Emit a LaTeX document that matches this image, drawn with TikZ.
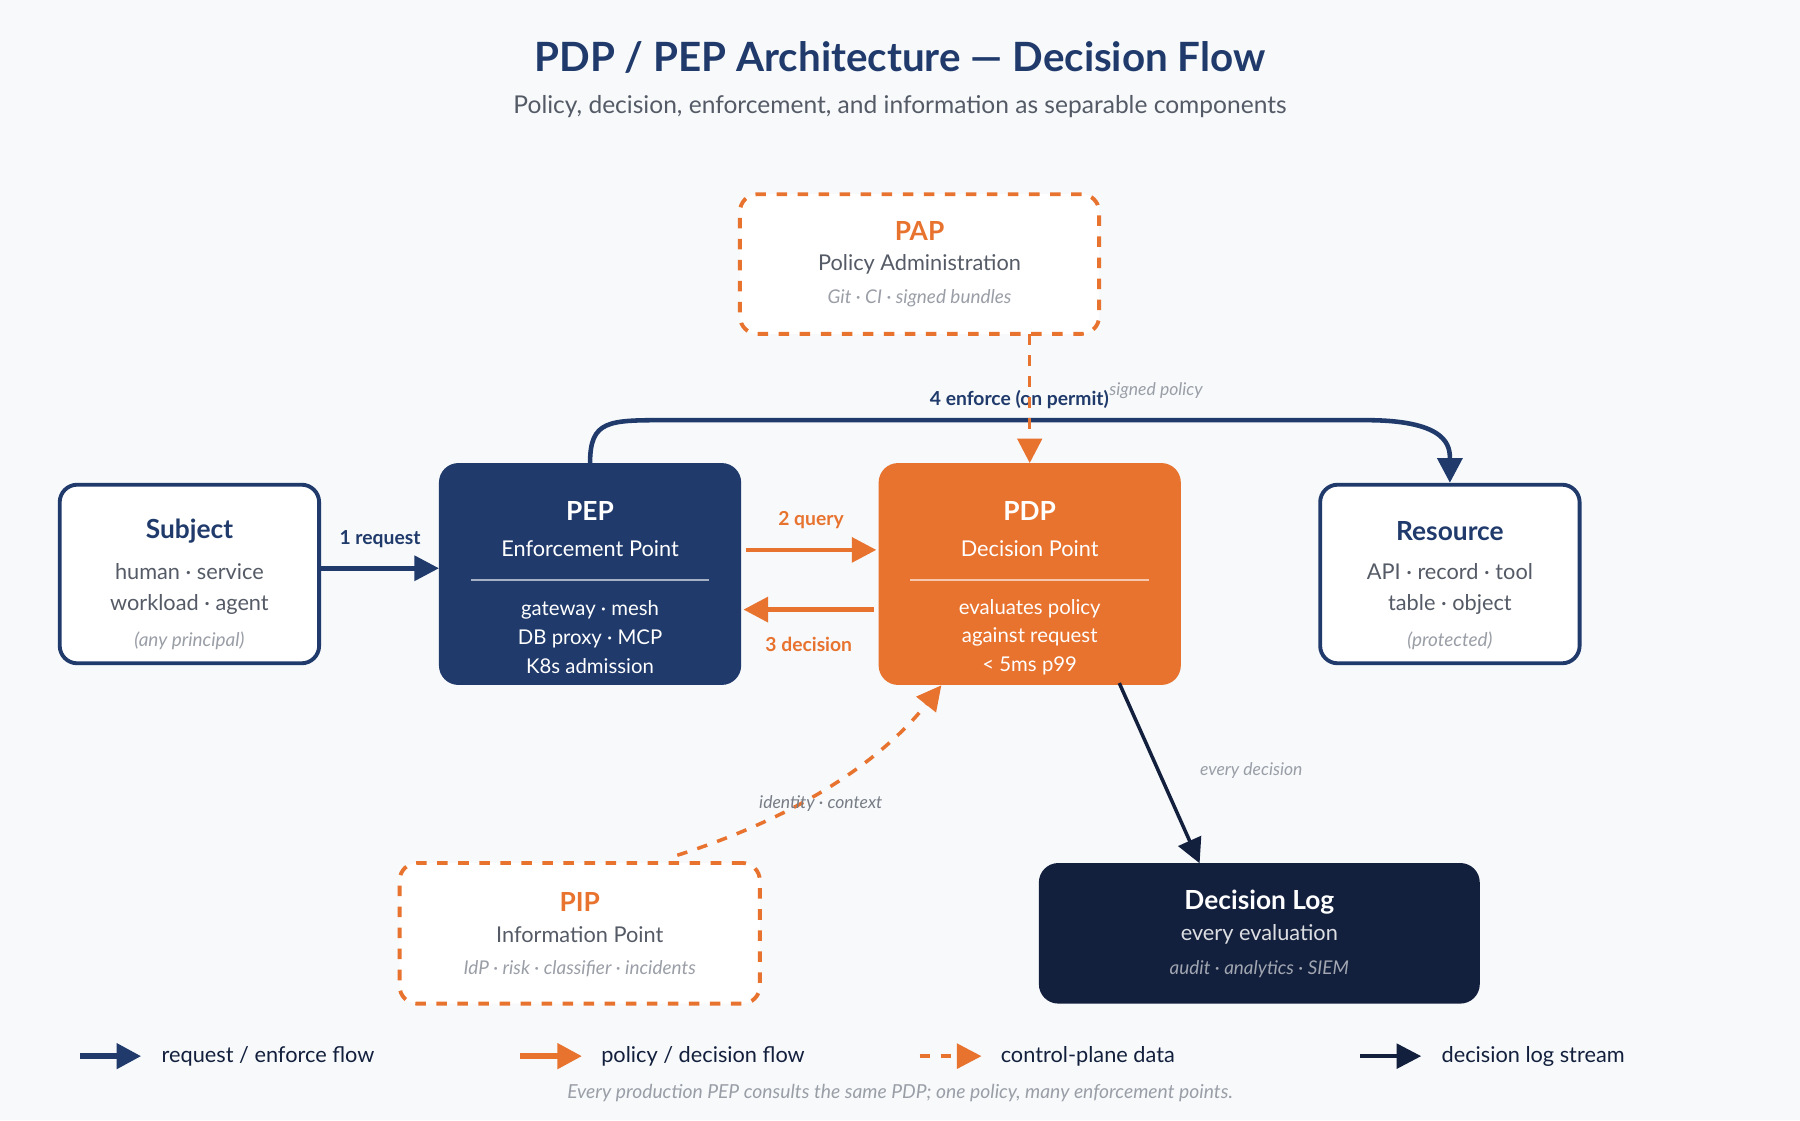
\documentclass[tikz,border=0pt]{standalone}
\usepackage{fontspec}
\setmainfont{Lato}
\usetikzlibrary{positioning, arrows.meta, calc}
\definecolor{navy}{HTML}{1F3A6B}
\definecolor{ora}{HTML}{E8732F}
\definecolor{ink}{HTML}{13203D}
\definecolor{muted}{HTML}{555B66}
\definecolor{faint}{HTML}{9A9EA6}
\definecolor{bg}{HTML}{F7F9FB}
\tikzset{
  box/.style={draw, rounded corners=5pt, line width=1.1pt},
  hd/.style={font=\fontsize{7.5}{9}\selectfont\bfseries},
  bd/.style={font=\fontsize{6.2}{9}\selectfont, align=center},
  sm/.style={font=\fontsize{5.4}{7}\selectfont\itshape, text=faint},
  flow/.style={line width=1.3pt, -{Triangle[length=7pt,width=7pt]}},
  lab/.style={font=\fontsize{5.5}{7}\selectfont\bfseries},
}
\begin{document}
\begin{tikzpicture}[x=0.0115cm, y=-0.0115cm]
\fill[bg] (0,0) rectangle (1568,976);
\useasboundingbox (0,0) rectangle (1568,976);
% title
\node[font=\fontsize{11.5}{13}\selectfont\bfseries, text=navy] (title) at (784,50) {PDP / PEP Architecture — Decision Flow};
\node[font=\fontsize{7}{9}\selectfont, text=muted] (sub) at (784,93) {Policy, decision, enforcement, and information as separable components};

% boxes
\node[box, draw=navy, fill=white, minimum width=2.6cm, minimum height=1.79cm] (subj) at (165,500) {};
\node[box, draw=navy, fill=navy, minimum width=2.99cm, minimum height=2.185cm] (pep) at (514,500) {};
\node[box, draw=ora, fill=ora, minimum width=2.99cm, minimum height=2.185cm] (pdp) at (897,500) {};
\node[box, draw=navy, fill=white, minimum width=2.6cm, minimum height=1.79cm] (res) at (1263,500) {};
\node[box, draw=ora, dashed, fill=white, minimum width=3.6cm, minimum height=1.40cm] (pap) at (801,230) {};
\node[box, draw=ora, dashed, fill=white, minimum width=3.61cm, minimum height=1.41cm] (pip) at (505,813) {};
\node[box, draw=ink, fill=ink, minimum width=4.38cm, minimum height=1.37cm] (log) at (1097,813) {};

% texts
\node[hd, text=navy] at (165,463) {Subject};
\node[bd, text=muted] at (165,513) {human · service\\workload · agent};
\node[sm] at (165,558) {(any principal)};
\node[hd, text=white] at (514,445) {PEP};
\node[bd, text=white] at (514,478) {Enforcement Point};
\draw[white!60!navy, line width=0.6pt] (410,505) -- (618,505);
\node[bd, text=white, font=\fontsize{5.8}{8.2}\selectfont] at (514,555) {gateway · mesh\\DB proxy · MCP\\K8s admission};
\node[hd, text=white] at (897,445) {PDP};
\node[bd, text=white] at (897,478) {Decision Point};
\draw[white!60!ora, line width=0.6pt] (793,505) -- (1001,505);
\node[bd, text=white, font=\fontsize{5.8}{8.2}\selectfont] at (897,555) {evaluates policy\\against request\\< 5ms p99};
\node[hd, text=navy] at (1263,463) {Resource};
\node[bd, text=muted] at (1263,513) {API · record · tool\\table · object};
\node[sm] at (1263,558) {(protected)};
\node[hd, text=ora] at (801,201) {PAP};
\node[bd, text=muted] at (801,230) {Policy Administration};
\node[sm] at (801,260) {Git · CI · signed bundles};
\node[hd, text=ora] at (505,786) {PIP};
\node[bd, text=muted] at (505,814) {Information Point};
\node[sm] at (505,844) {IdP · risk · classifier · incidents};
\node[hd, text=white] at (1097,786) {Decision Log};
\node[bd, text=white!85!ink] at (1097,814) {every evaluation};
\node[sm, text=white!60!ink] at (1097,844) {audit · analytics · SIEM};

% connectors
\draw[flow, navy] (subj.east |- 0,495) -- (pep.west |- 0,495) node[lab, midway, above=2pt] {1 request};
\draw[flow, ora] ($(pep.east)+(4,-21)$) -- ($(pdp.west)+(-2,-21)$) node[lab, midway, above=2pt, text=ora] {2 query};
\draw[flow, ora] ($(pdp.west)+(-4,31)$) -- ($(pep.east)+(2,31)$) node[lab, midway, below=4pt, text=ora] {3 decision};
\draw[flow, navy] (pep.north) .. controls (514,366) and (530,366) .. (580,366) -- (1190,366)
  .. controls (1263,366) and (1263,390) .. (res.north) ;
\node[lab, text=navy] at (888,348) {4 enforce (on permit)};
\draw[flow, ora, line width=1pt, dashed] (897,291) -- (pdp.north);
\node[sm, font=\fontsize{5}{6}\selectfont\itshape] at (1007,340) {signed policy};
\draw[flow, ora, line width=1pt, dashed] (590,745) .. controls (700,710) and (770,660) .. (820,597);
\node[sm, font=\fontsize{5}{6}\selectfont\itshape, text=muted!80] at (715,700) {identity · context};
\draw[flow, ink, line width=1pt] (975,595) -- (1045,752);
\node[sm, font=\fontsize{5}{6}\selectfont\itshape] at (1090,671) {every decision};

% legend
\draw[flow, navy, line width=1.6pt] (70,920) -- (123,920);
\node[bd, anchor=west, text=ink] at (130,920) {request / enforce flow};
\draw[flow, ora, line width=1.6pt] (453,920) -- (507,920);
\node[bd, anchor=west, text=ink] at (513,920) {policy / decision flow};
\draw[flow, ora, line width=1.1pt, dashed] (801,920) -- (855,920);
\node[bd, anchor=west, text=ink] at (861,920) {control-plane data};
\draw[flow, ink, line width=1.1pt] (1185,920) -- (1238,920);
\node[bd, anchor=west, text=ink] at (1245,920) {decision log stream};
\node[sm, font=\fontsize{5.5}{7}\selectfont\itshape] at (784,952) {Every production PEP consults the same PDP; one policy, many enforcement points.};
\end{tikzpicture}
\end{document}
